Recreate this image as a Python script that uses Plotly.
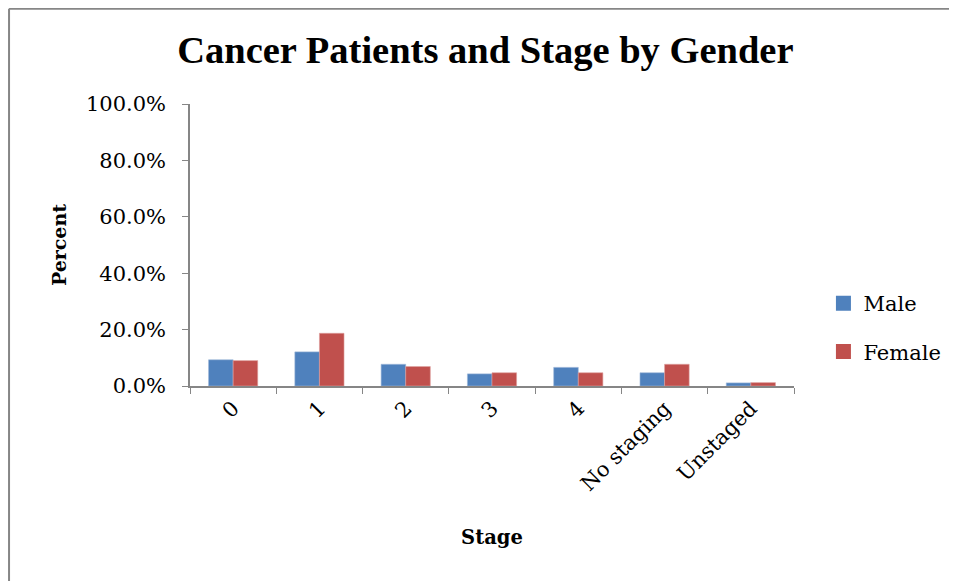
import plotly.graph_objects as go

stages = ["0", "1", "2", "3", "4", "No staging", "Unstaged"]
male = [0.093, 0.121, 0.077, 0.043, 0.066, 0.047, 0.011]
female = [0.090, 0.187, 0.069, 0.047, 0.047, 0.077, 0.012]

MALE_COLOR = "#4F81BD"
FEMALE_COLOR = "#C0504D"
SERIF = "DejaVu Serif"
TITLE_FONT = "Liberation Serif"
AXIS_GREY = "#868686"

fig = go.Figure()
fig.add_trace(go.Bar(x=stages, y=male, name="Male", marker_color=MALE_COLOR,
                     marker_line_color="#9DB7D9", marker_line_width=0.6, showlegend=False))
fig.add_trace(go.Bar(x=stages, y=female, name="Female", marker_color=FEMALE_COLOR,
                     marker_line_color="#DDA09E", marker_line_width=0.6, showlegend=False))
# legend entries with bigger square swatches
for name, color in [("Male", MALE_COLOR), ("Female", FEMALE_COLOR)]:
    fig.add_trace(go.Scatter(x=[None], y=[None], mode="markers", name=name, legendgroup=name,
                             marker=dict(symbol="square", size=15, color=color)))

fig.update_layout(
    width=949,
    height=573,
    margin=dict(l=182, r=162, t=96, b=195),
    paper_bgcolor="white",
    plot_bgcolor="white",
    barmode="group",
    bargap=0.43,
    bargroupgap=0,
    font=dict(family=SERIF, size=20, color="black"),
    title=dict(text="<b>Cancer Patients and Stage by Gender</b>", x=0.503, xanchor="center",
               y=0.927, yanchor="middle", font=dict(size=38.5, family=TITLE_FONT)),
    legend=dict(x=1.047, xanchor="left", y=0.207, yanchor="middle", tracegroupgap=18,
                font=dict(size=21), itemwidth=30, bgcolor="rgba(0,0,0,0)"),
)
fig.update_yaxes(
    range=[0, 1],
    dtick=0.2,
    tickformat=".1%",
    showgrid=False,
    showline=True,
    linecolor=AXIS_GREY,
    linewidth=1.5,
    ticks="outside",
    ticklen=6,
    tickcolor=AXIS_GREY,
    ticklabelstandoff=12,
    tickfont=dict(size=21),
    title=dict(text="<b>Percent</b>", standoff=14, font=dict(size=19)),
    zeroline=False,
)
fig.update_xaxes(
    showgrid=False,
    showline=True,
    linecolor=AXIS_GREY,
    linewidth=1.5,
    ticks="outside",
    ticklen=6,
    tickcolor=AXIS_GREY,
    tickson="boundaries",
    tickangle=-45,
    tickfont=dict(size=21),
    title=dict(text="<b>Stage</b>", standoff=36, font=dict(size=19.5)),
)

# outer frame: top and left edges only
fig.add_shape(type="line", xref="paper", yref="paper", x0=-0.2996, x1=1.3, y0=1.3378, y1=1.3378,
              line=dict(color=AXIS_GREY, width=2))
fig.add_shape(type="line", xref="paper", yref="paper", x0=-0.2996, x1=-0.2996, y0=1.3378, y1=-0.7,
              line=dict(color=AXIS_GREY, width=2))

fig.write_html("out.html")
